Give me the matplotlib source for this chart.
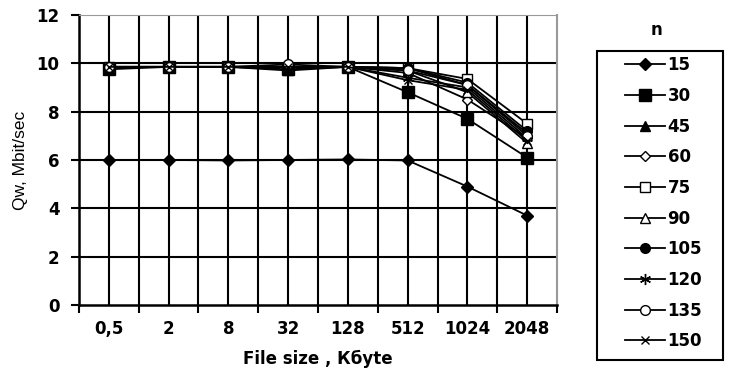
import matplotlib
matplotlib.use('Agg')
from matplotlib import pyplot as plt
from matplotlib.patches import Rectangle
import numpy as np

plt.rcParams['font.family'] = ['DejaVu Sans']

sizes = ['0,5', '2', '8', '32', '128', '512', '1024', '2048']
n_labels = ['15', '30', '45', '60', '75', '90', '105', '120', '135', '150']

q15  = [6.0, 6.0, 5.98, 6.0, 6.02, 5.98, 4.9, 3.7]
q30  = [9.75, 9.85, 9.85, 9.75, 9.85, 8.8, 7.7, 6.1]
q45  = [9.85, 9.85, 9.85, 9.7, 9.85, 9.8, 9.1, 7.1]
q60  = [9.85, 9.85, 9.85, 9.85, 9.85, 9.6, 8.5, 6.9]
q75  = [9.85, 9.85, 9.85, 9.85, 9.85, 9.8, 9.35, 7.5]
q90  = [9.85, 9.85, 9.85, 9.85, 9.85, 9.7, 8.8, 6.7]
q105 = [9.85, 9.85, 9.85, 9.85, 9.85, 9.8, 9.2, 7.2]
q120 = [9.85, 9.85, 9.85, 9.85, 9.85, 9.4, 9.0, 6.9]
q135 = [9.85, 9.85, 9.85, 9.95, 9.85, 9.7, 9.1, 7.0]
q150 = [9.85, 9.85, 9.85, 9.85, 9.85, 9.3, 8.9, 6.8]

series = [q15, q30, q45, q60, q75, q90, q105, q120, q135, q150]
markers = ['D', 's', '^', 'D', 's', '^', 'o', (6, 2, 0), 'o', 'x']
filled = [True, True, True, False, False, False, True, True, False, True]
msizes = [6, 8, 7, 5, 7, 7, 7, 8, 7, 6]

fig = plt.figure(figsize=(7.31, 3.72), dpi=100)
ax = fig.add_axes([0.108, 0.180, 0.654, 0.780])

x = np.arange(len(sizes))
handles = []
for vals, m, f, ms, lab in zip(series, markers, filled, msizes, n_labels):
    h, = ax.plot(x, vals, color='black', lw=1.3, marker=m, ms=ms,
                 markerfacecolor='black' if f else 'white',
                 markeredgecolor='black', markeredgewidth=1.0, label=lab,
                 zorder=3)
    handles.append(h)

ax.set_xlim(-0.5, len(sizes) - 0.5)
ax.set_ylim(0, 12)
ax.set_yticks(np.arange(0, 13, 2))

# grid: category centers and boundaries
for xc in x:
    ax.axvline(xc, color='black', lw=1.5, zorder=1)
for xb in np.arange(0.5, len(sizes) - 0.5, 1):
    ax.axvline(xb, color='black', lw=1.5, zorder=1)
for yv in np.arange(2, 12, 2):
    ax.axhline(yv, color='black', lw=1.5, zorder=1)

ax.set_xticks(np.arange(-0.5, len(sizes), 1))
ax.set_xticklabels([])
ax.set_xticks(x, minor=True)
ax.set_xticklabels(sizes, minor=True, fontsize=12, fontweight='bold')
ax.tick_params(axis='x', which='minor', length=0, pad=11)
ax.tick_params(axis='x', which='major', length=6, width=1.5, direction='out')
ax.tick_params(axis='y', length=6, width=1.5, direction='out', labelsize=12, pad=8)
for t in ax.get_yticklabels():
    t.set_fontweight('bold')

ax.spines['left'].set_linewidth(1.8)
ax.spines['bottom'].set_linewidth(1.8)
ax.spines['top'].set_color('#999999')
ax.spines['right'].set_color('#999999')
ax.spines['right'].set_linewidth(1.5)

ax.set_ylabel('Qw, Mbit/sec', fontsize=12.5, family='Liberation Sans', labelpad=6)
ax.set_xlabel('File size , Кбyte', fontsize=12, fontweight='bold', labelpad=8)

leg = fig.legend(handles=handles, loc='upper left', bbox_to_anchor=(0.855, 0.849),
                 frameon=False, prop={'weight': 'bold', 'size': 12},
                 handlelength=2.4, labelspacing=0.76, borderpad=0,
                 borderaxespad=0, handletextpad=0.15)
fig.patches.append(Rectangle((0.8167, 0.0323), 0.172, 0.8315, transform=fig.transFigure,
                             fill=False, edgecolor='black', lw=1.5))
fig.text(0.898, 0.919, 'n', fontsize=12, fontweight='bold', ha='center', va='center')

plt.savefig('out.png', dpi=100)
